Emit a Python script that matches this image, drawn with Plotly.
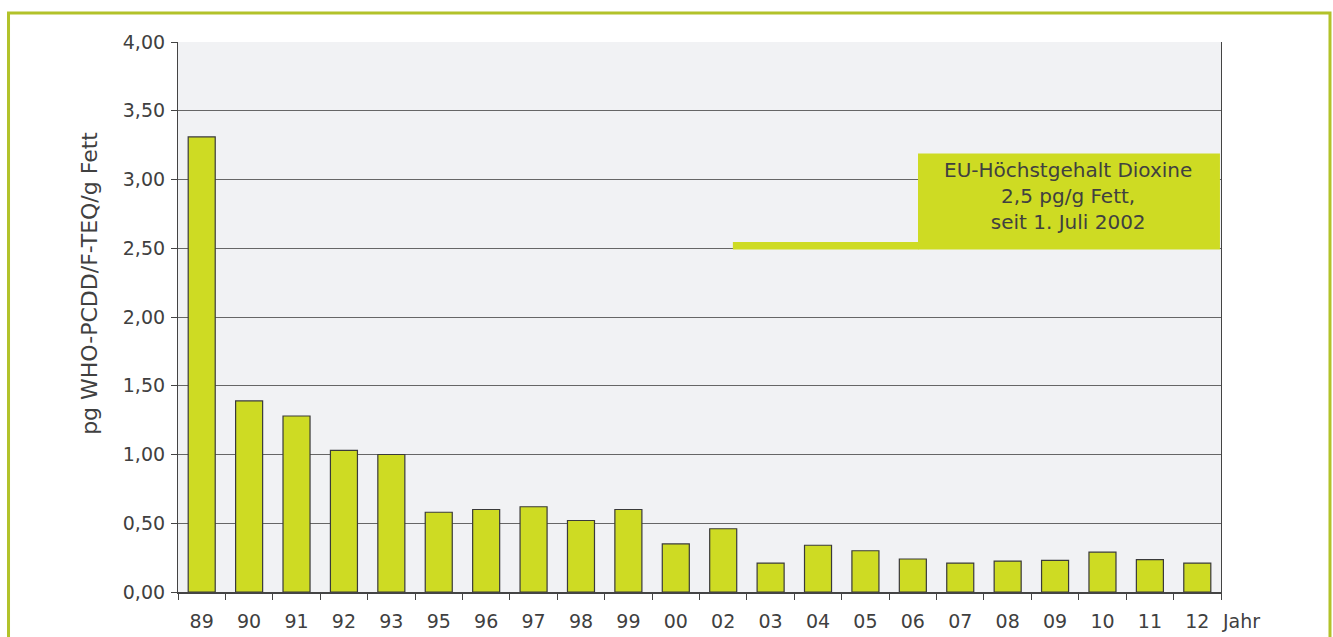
import plotly.graph_objects as go

# Jahrgänge (zweistellig) und mittlere Dioxingehalte
years = ["89", "90", "91", "92", "93", "95", "96", "97", "98", "99", "00",
         "02", "03", "04", "05", "06", "07", "08", "09", "10", "11", "12"]
values = [3.31, 1.39, 1.28, 1.03, 1.00, 0.58, 0.60, 0.62, 0.52, 0.60, 0.35,
          0.46, 0.21, 0.34, 0.30, 0.24, 0.21, 0.225, 0.23, 0.29, 0.235, 0.21]

# EU-Höchstgehalt in pg/g Fett
limit_value = 2.5
limit_text = "EU-Höchstgehalt Dioxine<br>2,5 pg/g Fett,<br>seit 1. Juli 2002"

y_ticks = [0, 0.5, 1.0, 1.5, 2.0, 2.5, 3.0, 3.5, 4.0]
y_title = "pg WHO-PCDD/F-TEQ/g Fett"

bar_color = "#CEDB23"
frame_color = "#B2C22A"
text_color = "#404040"
font_family = "DejaVu Sans, Verdana, sans-serif"

fig = go.Figure(
    go.Bar(
        x=years,
        y=values,
        marker=dict(color=bar_color, line=dict(color="#3a3a3a", width=1.2)),
        width=0.57,
        hoverinfo="x+y",
    )
)

fig.update_layout(
    width=1333,
    height=637,
    margin=dict(l=178, r=112, t=42, b=45),
    paper_bgcolor="white",
    plot_bgcolor="#F1F2F4",
    separators=",.",
    showlegend=False,
    font=dict(family=font_family, size=19, color=text_color),
)

fig.update_xaxes(
    type="category",
    tickson="boundaries",
    ticks="outside",
    ticklen=6,
    tickcolor="#444444",
    ticklabelstandoff=11,
    automargin=False,
    showline=True,
    linecolor="#444444",
    linewidth=1.5,
    showgrid=False,
    tickfont=dict(size=19, color=text_color),
)

fig.update_yaxes(
    range=[0, 4.0],
    tickvals=y_ticks,
    tickformat=".2f",
    ticks="outside",
    ticklen=6,
    tickcolor="#444444",
    ticklabelstandoff=2,
    automargin=False,
    showline=True,
    mirror=True,
    linecolor="#444444",
    linewidth=1.2,
    showgrid=True,
    gridcolor="#666666",
    gridwidth=1,
    zeroline=False,
    tickfont=dict(size=19, color=text_color),
)

# Achsentitel der y-Achse
fig.add_annotation(
    xref="paper", yref="paper", x=-0.0844, y=0.562,
    text=y_title, textangle=-90, showarrow=False,
    xanchor="center", yanchor="middle",
    font=dict(size=22, color=text_color),
)

# Grenzwertlinie und Hinweisfeld
fig.add_shape(
    type="rect", xref="paper", yref="y",
    x0=0.532, x1=0.71, y0=limit_value - 0.01, y1=limit_value + 0.045,
    fillcolor=bar_color, line=dict(width=0), layer="above",
)
fig.add_shape(
    type="rect", xref="paper", yref="y",
    x0=0.7095, x1=0.999, y0=limit_value - 0.01, y1=3.19,
    fillcolor=bar_color, line=dict(width=0), layer="above",
)
fig.add_annotation(
    xref="paper", yref="y", x=0.853, y=2.88,
    text=limit_text, showarrow=False, align="center",
    xanchor="center", yanchor="middle",
    font=dict(size=20, color=text_color),
)

# Achsenbeschriftung "Jahr"
fig.add_annotation(
    xref="paper", yref="paper", x=1.0, y=0, xshift=-1, yshift=-29,
    text="Jahr", showarrow=False, xanchor="left", yanchor="middle",
    font=dict(size=19, color=text_color),
)

# Grüner Rahmen um die Grafik
fig.add_shape(
    type="rect", xref="paper", yref="paper",
    x0=-0.1625, x1=1.1045, y0=-0.1, y1=1.0527,
    line=dict(color=frame_color, width=3), fillcolor="rgba(0,0,0,0)", layer="below",
)

fig.write_html("out.html")
